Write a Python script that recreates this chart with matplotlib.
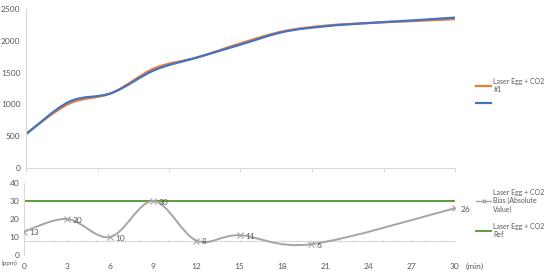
import matplotlib
matplotlib.use("Agg")
import matplotlib.pyplot as plt
from matplotlib.path import Path
from matplotlib.patches import PathPatch
from matplotlib.lines import Line2D
import numpy as np

plt.rcParams['font.family'] = ['Lato', 'DejaVu Sans']

# ---- data ----
top_t = [0, 3, 6, 9, 12, 15, 18, 21, 24, 27, 30]
sensor1 = [540, 1010, 1180, 1570, 1740, 1960, 2150, 2240, 2280, 2310, 2340]
sensor2 = [530, 1040, 1180, 1540, 1740, 1940, 2140, 2230, 2280, 2320, 2365]

bias_t = [0, 3, 6, 9, 12, 15, 20, 30]
bias_v = [13, 20, 10, 30, 8, 11, 6, 26]
ref_level = 30
axis_cross = 8

top_yticks = [0, 500, 1000, 1500, 2000, 2500]
bot_yticks = [0, 10, 20, 30, 40]
bot_xticks = [0, 3, 6, 9, 12, 15, 18, 21, 24, 27, 30]

ORANGE = '#ED7D31'
BLUE = '#4472C4'
GRAY = '#A5A5A5'
GREEN = '#5E9E3A'
TXT = '#595959'
AX = '#D9D9D9'


def smooth_path(xs, ys):
    pts = np.column_stack([xs, ys]).astype(float)
    n = len(pts)
    verts = [pts[0]]
    codes = [Path.MOVETO]
    for i in range(n - 1):
        p0 = pts[i - 1] if i > 0 else pts[i]
        p1 = pts[i]
        p2 = pts[i + 1]
        p3 = pts[i + 2] if i + 2 < n else pts[i + 1]
        c1 = p1 + (p2 - p0) / 6.0
        c2 = p2 - (p3 - p1) / 6.0
        verts += [c1, c2, p2]
        codes += [Path.CURVE4] * 3
    return Path(verts, codes)


fig = plt.figure(figsize=(5.5, 2.75), dpi=100)

# ---- top chart ----
ax1 = fig.add_axes([26/550, 1 - 168/275, (455-26)/550, (168-9)/275])
for ys, c in [(sensor1, ORANGE), (sensor2, BLUE)]:
    ax1.add_patch(PathPatch(smooth_path(top_t, ys), fill=False, edgecolor=c, lw=1.6, capstyle='round'))
ax1.set_xlim(0, 30)
ax1.set_ylim(0, 2500)
ax1.set_yticks(top_yticks)
ax1.set_xticks([0, 5, 10, 15, 20, 25, 30])
ax1.set_xticklabels([])
ax1.tick_params(axis='y', length=0, labelsize=6, labelcolor=TXT, pad=4)
ax1.tick_params(axis='x', length=3, color=AX, direction='out')
for s in ['top', 'right']:
    ax1.spines[s].set_visible(False)
ax1.spines['left'].set_color(AX)
ax1.spines['bottom'].set_color(AX)

leg_kw = dict(loc='upper left', frameon=False, fontsize=5, handlelength=2.2, handletextpad=0.3,
              borderpad=0, borderaxespad=0, labelcolor=TXT)
h1 = [Line2D([], [], color=ORANGE, lw=1.6), Line2D([], [], color=BLUE, lw=1.6)]
fig.legend(h1, ['Laser Egg + CO2\n#1', ' '], bbox_to_anchor=(476/550, 1 - 78/275),
           labelspacing=0.9, **leg_kw)

# ---- bottom chart ----
ax2 = fig.add_axes([24/550, 1 - 255/275, (455-24)/550, (255-183)/275])
ax2.axhline(axis_cross, color=AX, lw=0.8, zorder=1)
for xm in range(0, 31):
    ax2.plot([xm, xm], [axis_cross - 0.6, axis_cross + 0.6], color=AX, lw=0.6, zorder=1)
ax2.plot([0, 30], [ref_level, ref_level], color=GREEN, lw=1.4, zorder=2)
ax2.add_patch(PathPatch(smooth_path(bias_t, bias_v), fill=False, edgecolor=GRAY, lw=1.4, zorder=3))
ax2.plot(bias_t, bias_v, 'x', color=GRAY, ms=4, mew=0.8, zorder=4)
for x, y in zip(bias_t, bias_v):
    ax2.annotate(str(y), (x, y), xytext=(4, -1), textcoords='offset points', fontsize=6,
                 color=TXT, va='center', ha='left')
ax2.set_xlim(0, 30)
ax2.set_ylim(0, 40)
ax2.set_yticks(bot_yticks)
ax2.set_xticks(bot_xticks)
ax2.tick_params(axis='both', length=0, labelsize=6, labelcolor=TXT)
ax2.tick_params(axis='x', pad=6)
for s in ['top', 'right', 'bottom']:
    ax2.spines[s].set_visible(False)
ax2.spines['left'].set_color(AX)
fig.text(2/550, 1 - 263/275, '(ppm)', fontsize=4.5, color=TXT, ha='left', va='center')
fig.text(466/550, 1 - 266/275, '(min)', fontsize=6, color=TXT, ha='left', va='center')
h2 = [Line2D([], [], color=GRAY, lw=1.0, marker='x', ms=3.5, mew=0.8), Line2D([], [], color=GREEN, lw=1.4)]
fig.legend(h2, ['Laser Egg + CO2\nBias (Absolute\nValue)', 'Laser Egg + CO2\nRef'],
           bbox_to_anchor=(476/550, 1 - 189/275), labelspacing=1.4, **leg_kw)

fig.savefig('out.png', dpi=100)
